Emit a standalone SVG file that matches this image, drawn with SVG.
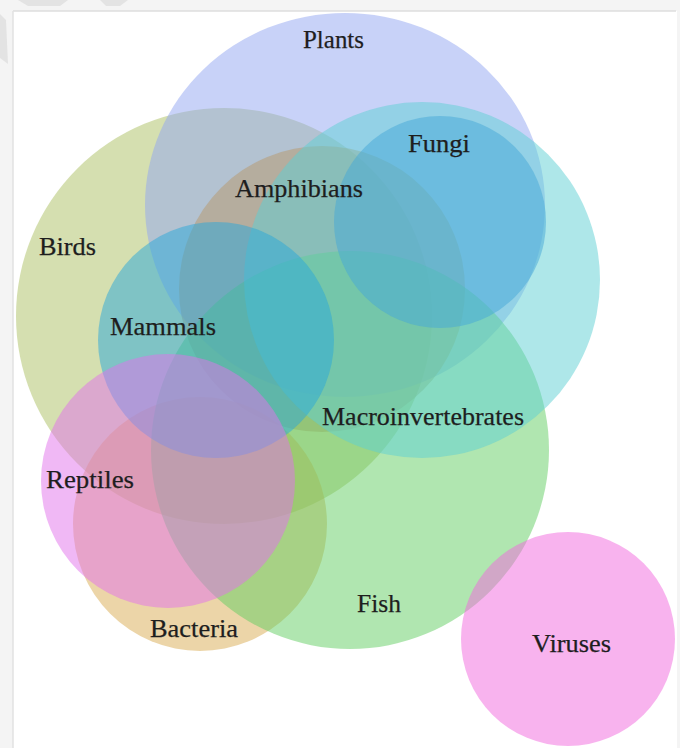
<svg xmlns="http://www.w3.org/2000/svg" width="685" height="748" viewBox="0 0 685 748">
<style>
.set{fill-opacity:0.5;stroke:none}
.lbl{font-family:"Liberation Serif","Times New Roman",serif;font-size:26px;fill:#1e1e1e;stroke:#1e1e1e;stroke-width:0.25}
</style>
<rect x="0" y="0" width="685" height="748" fill="#ffffff"/>
<rect x="0" y="0" width="680" height="748" fill="#f4f4f4"/>
<rect x="13" y="11" width="664" height="737" fill="#ffffff"/>
<line x1="13" y1="11" x2="676" y2="11" stroke="#dedede" stroke-width="1.5"/>
<line x1="13" y1="11" x2="13" y2="748" stroke="#e2e2e2" stroke-width="1.5"/>
<g id="watermark" fill="#e3e3e3">
<polygon points="18,0 68,0 60,6 28,6"/>
<polygon points="100,0 128,0 120,6 106,6"/>
<polygon points="0,14 6,20 8,64 0,58"/>
</g>
<g id="birds"><circle class="set" cx="224" cy="316" r="208" fill="#abbf61"/></g>
<g id="plants"><ellipse class="set" cx="345" cy="205" rx="200" ry="192" fill="#91a5f1"/></g>
<g id="amphibians"><circle class="set" cx="322" cy="289" r="143" fill="#b7986b"/></g>
<g id="bacteria"><circle class="set" cx="200" cy="524" r="127" fill="#d9ab51"/></g>
<g id="fish"><circle class="set" cx="350" cy="450" r="199" fill="#61cd61"/></g>
<g id="macroinvertebrates"><circle class="set" cx="422" cy="280" r="178" fill="#5dcfd4"/></g>
<g id="fungi"><circle class="set" cx="440" cy="222" r="106" fill="#45a8d8"/></g>
<g id="mammals"><circle class="set" cx="216" cy="340" r="118" fill="#2aa8da"/></g>
<g id="reptiles"><circle class="set" cx="168" cy="481" r="127" fill="#e171eb"/></g>
<g id="viruses"><circle class="set" cx="568" cy="639" r="107" fill="#f167dd"/></g>
<g id="labels">
<text class="lbl" x="303" y="48" textLength="61" lengthAdjust="spacingAndGlyphs">Plants</text>
<text class="lbl" x="408" y="152" textLength="62" lengthAdjust="spacingAndGlyphs">Fungi</text>
<text class="lbl" x="235" y="197" textLength="128" lengthAdjust="spacingAndGlyphs">Amphibians</text>
<text class="lbl" x="39" y="255" textLength="57" lengthAdjust="spacingAndGlyphs">Birds</text>
<text class="lbl" x="110" y="335" textLength="106" lengthAdjust="spacingAndGlyphs">Mammals</text>
<text class="lbl" x="322" y="425" textLength="202" lengthAdjust="spacingAndGlyphs">Macroinvertebrates</text>
<text class="lbl" x="46" y="488" textLength="88" lengthAdjust="spacingAndGlyphs">Reptiles</text>
<text class="lbl" x="357" y="612" textLength="44" lengthAdjust="spacingAndGlyphs">Fish</text>
<text class="lbl" x="150" y="637" textLength="88" lengthAdjust="spacingAndGlyphs">Bacteria</text>
<text class="lbl" x="532" y="652" textLength="79" lengthAdjust="spacingAndGlyphs">Viruses</text>
</g>
<g id="connectors"></g>
</svg>
